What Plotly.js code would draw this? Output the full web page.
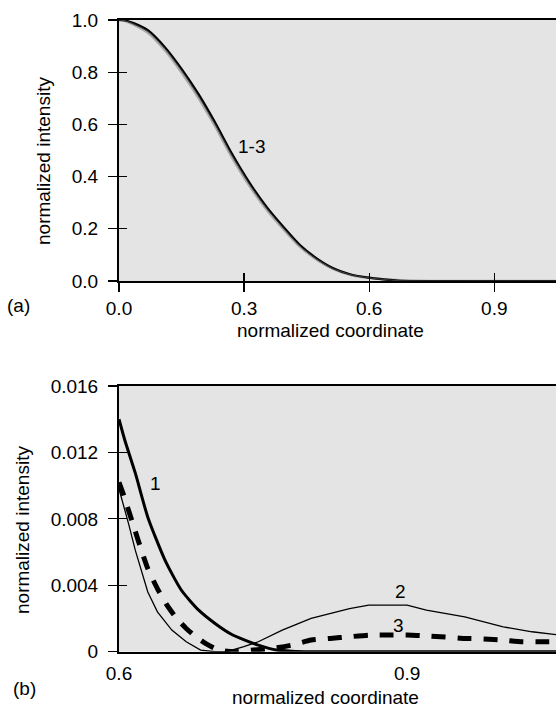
<!DOCTYPE html>
<html>
<head>
<meta charset="utf-8">
<script src="https://cdn.plot.ly/plotly-3.0.1.min.js"></script>
<style>html,body{margin:0;padding:0;background:#fff;}#chart{width:556px;height:708px;}</style>
</head>
<body>
<div id="chart"></div>
<script>
// ---- Panel (a): normalized intensity vs normalized coordinate (curves 1-3 nearly overlap)
const aX = [0, 0.015, 0.035, 0.07, 0.11, 0.15, 0.19, 0.23, 0.27, 0.314, 0.354, 0.394, 0.434, 0.474, 0.514, 0.554, 0.594, 0.634, 0.674, 0.75, 0.9, 1.06];
const aCurve1 = [1.0, 0.998, 0.988, 0.96, 0.896, 0.813, 0.718, 0.609, 0.49, 0.374, 0.284, 0.208, 0.138, 0.087, 0.049, 0.026, 0.014, 0.006, 0.001, 0, 0, 0];
const aCurve2 = [1.0, 0.996, 0.982, 0.95, 0.884, 0.799, 0.703, 0.594, 0.476, 0.362, 0.273, 0.199, 0.131, 0.082, 0.046, 0.024, 0.013, 0.007, 0.003, 0, 0, 0];
const aCurve3 = [1.0, 0.997, 0.985, 0.955, 0.89, 0.806, 0.71, 0.601, 0.483, 0.368, 0.278, 0.203, 0.134, 0.084, 0.047, 0.025, 0.013, 0.006, 0.001, 0, 0, 0];

// ---- Panel (b): tail region
const b1X = [0.6, 0.606, 0.617, 0.63, 0.648, 0.665, 0.683, 0.70, 0.717, 0.731, 0.745, 0.764, 0.78, 0.8, 0.9, 1.0, 1.06];
const b1Y = [0.0140, 0.01275, 0.01075, 0.0081, 0.0055, 0.0037, 0.0025, 0.0017, 0.00105, 0.0007, 0.0004, 0.0001, 0.00003, 0, 0, 0, 0];

const b2X = [0.6, 0.605, 0.61, 0.617, 0.624, 0.63, 0.64, 0.655, 0.67, 0.685, 0.70, 0.712, 0.73, 0.745, 0.77, 0.80, 0.84, 0.86, 0.88, 0.90, 0.92, 0.96, 1.0, 1.03, 1.06];
const b2Y = [0.0098, 0.0088, 0.0077, 0.0061, 0.0047, 0.0036, 0.0024, 0.0013, 0.0006, 0.0001, 0.0, 0.0, 0.0003, 0.0006, 0.0013, 0.0020, 0.0026, 0.0028, 0.0028, 0.0028, 0.0025, 0.0021, 0.0015, 0.0012, 0.0010];

const b3X = [0.6, 0.605, 0.61, 0.615, 0.62, 0.63, 0.64, 0.65, 0.66, 0.67, 0.68, 0.69, 0.70, 0.71, 0.72, 0.74, 0.76, 0.78, 0.80, 0.82, 0.84, 0.86, 0.88, 0.90, 0.92, 0.94, 0.96, 0.98, 1.0, 1.02, 1.04, 1.06];
const b3Y = [0.0102, 0.0094, 0.0085, 0.0076, 0.0067, 0.0050, 0.0038, 0.0028, 0.0020, 0.0014, 0.0009, 0.0005, 0.0002, 0.00005, 0.0, 0.0001, 0.0002, 0.0004, 0.0007, 0.0008, 0.0009, 0.001, 0.001, 0.001, 0.00095, 0.00088, 0.0008, 0.00077, 0.0007, 0.0006, 0.0006, 0.0006];

const aXTicks = [0.0, 0.3, 0.6, 0.9];
const aYTicks = [0.0, 0.2, 0.4, 0.6, 0.8, 1.0];
const bXTicks = [0.6, 0.9];
const bYTicks = [0, 0.004, 0.008, 0.012, 0.016];
const bYTickText = ["0", "0.004", "0.008", "0.012", "0.016"];

const FONT = "Liberation Sans, Arial, sans-serif";
const FS = 19;

const aXRange = [0, 1.048];
const aYRange = [0, 1.0];
const bXRange = [0.6, 1.055];
const bYRange = [0, 0.016];

const traces = [
  {x: aX, y: aCurve2, xaxis: 'x', yaxis: 'y', mode: 'lines', line: {color: '#a8a8a8', width: 2.5, shape: 'spline', smoothing: 0.6}, hoverinfo: 'skip'},
  {x: aX, y: aCurve1, xaxis: 'x', yaxis: 'y', mode: 'lines', line: {color: '#000', width: 2.2, shape: 'spline', smoothing: 0.6}, hoverinfo: 'skip'},
  {x: aX, y: aCurve3, xaxis: 'x', yaxis: 'y', mode: 'lines', line: {color: '#444', width: 1, shape: 'spline', smoothing: 0.6}, hoverinfo: 'skip'},
  {x: b2X, y: b2Y, xaxis: 'x2', yaxis: 'y2', mode: 'lines', line: {color: '#000', width: 1.3}, hoverinfo: 'skip'},
  {x: b3X, y: b3Y, xaxis: 'x2', yaxis: 'y2', mode: 'lines', line: {color: '#000', width: 5, dash: '14px,12px', shape: 'spline', smoothing: 0.5}, hoverinfo: 'skip'},
  {x: b1X, y: b1Y, xaxis: 'x2', yaxis: 'y2', mode: 'lines', line: {color: '#000', width: 3, shape: 'spline', smoothing: 0.6}, hoverinfo: 'skip'},
  // empty helper traces so the overlaid inside-tick axes are drawn
  {x: [], y: [], xaxis: 'x3', yaxis: 'y', mode: 'lines', hoverinfo: 'skip'},
  {x: [], y: [], xaxis: 'x', yaxis: 'y3', mode: 'lines', hoverinfo: 'skip'},
  {x: [], y: [], xaxis: 'x2', yaxis: 'y4', mode: 'lines', hoverinfo: 'skip'}
];

const topDom = [1 - 281/708, 1 - 20/708];
const botDom = [1 - 651.7/708, 1 - 386/708];

const baseAx = {
  showgrid: false, zeroline: false, showline: true, linecolor: '#000', linewidth: 2,
  tickcolor: '#000', tickwidth: 1.3, tickfont: {family: FONT, size: FS, color: '#000'}
};
const inAx = {ticks: 'inside', ticklen: 8, tickwidth: 1.3, tickcolor: '#000', showticklabels: false, showgrid: false, zeroline: false, showline: false};

const layout = {
  width: 556, height: 708,
  margin: {l: 119, r: 0, t: 0, b: 0},
  paper_bgcolor: '#fff', plot_bgcolor: '#e4e4e4',
  showlegend: false,
  font: {family: FONT, size: FS, color: '#000'},
  xaxis: Object.assign({}, baseAx, {domain: [0, 1], anchor: 'y', range: aXRange, tickvals: aXTicks, tickformat: '.1f', ticks: 'outside', ticklen: 9, mirror: true, ticklabelstandoff: 0}),
  yaxis: Object.assign({}, baseAx, {domain: topDom, anchor: 'x', range: aYRange, tickvals: aYTicks, tickformat: '.1f', ticks: 'outside', ticklen: 9, ticklabelstandoff: 6}),
  xaxis2: Object.assign({}, baseAx, {domain: [0, 1], anchor: 'y2', range: bXRange, tickvals: bXTicks, tickformat: '.1f', ticks: '', mirror: true, ticklabelstandoff: 3}),
  yaxis2: Object.assign({}, baseAx, {domain: botDom, anchor: 'x2', range: bYRange, tickvals: bYTicks, ticktext: bYTickText, ticks: 'outside', ticklen: 9, ticklabelstandoff: 6}),
  xaxis3: Object.assign({}, inAx, {overlaying: 'x', anchor: 'y', side: 'bottom', range: aXRange, tickvals: aXTicks}),
  yaxis3: Object.assign({}, inAx, {overlaying: 'y', anchor: 'x', side: 'left', range: aYRange, tickvals: aYTicks}),
  yaxis4: Object.assign({}, inAx, {overlaying: 'y2', anchor: 'x2', side: 'left', range: bYRange, tickvals: bYTicks}),
  annotations: [
    {text: 'normalized intensity', xref: 'paper', yref: 'paper', x: (43-119)/437, y: 1 - 161/708, textangle: -90, showarrow: false, xanchor: 'center', yanchor: 'middle', font: {family: FONT, size: FS}},
    {text: 'normalized coordinate', xref: 'paper', yref: 'paper', x: (330-119)/437, y: 1 - 330/708, showarrow: false, xanchor: 'center', yanchor: 'middle', font: {family: FONT, size: FS}},
    {text: '(a)', xref: 'paper', yref: 'paper', x: (18-119)/437, y: 1 - 305/708, showarrow: false, xanchor: 'center', yanchor: 'middle', font: {family: FONT, size: FS}},
    {text: 'normalized intensity', xref: 'paper', yref: 'paper', x: (22-119)/437, y: 1 - 530/708, textangle: -90, showarrow: false, xanchor: 'center', yanchor: 'middle', font: {family: FONT, size: FS}},
    {text: 'normalized coordinate', xref: 'paper', yref: 'paper', x: (325-119)/437, y: 1 - 697/708, showarrow: false, xanchor: 'center', yanchor: 'middle', font: {family: FONT, size: FS}},
    {text: '(b)', xref: 'paper', yref: 'paper', x: (24-119)/437, y: 1 - 688/708, showarrow: false, xanchor: 'center', yanchor: 'middle', font: {family: FONT, size: FS}},
    {text: '1-3', xref: 'x', yref: 'y', x: 0.318, y: 0.514, showarrow: false, font: {family: FONT, size: FS}},
    {text: '1', xref: 'x2', yref: 'y2', x: 0.638, y: 0.0101, showarrow: false, font: {family: FONT, size: FS}},
    {text: '2', xref: 'x2', yref: 'y2', x: 0.893, y: 0.0036, showarrow: false, font: {family: FONT, size: FS}},
    {text: '3', xref: 'x2', yref: 'y2', x: 0.891, y: 0.0016, showarrow: false, font: {family: FONT, size: FS}}
  ]
};

Plotly.newPlot('chart', traces, layout, {staticPlot: true, displayModeBar: false});
</script>
</body>
</html>
